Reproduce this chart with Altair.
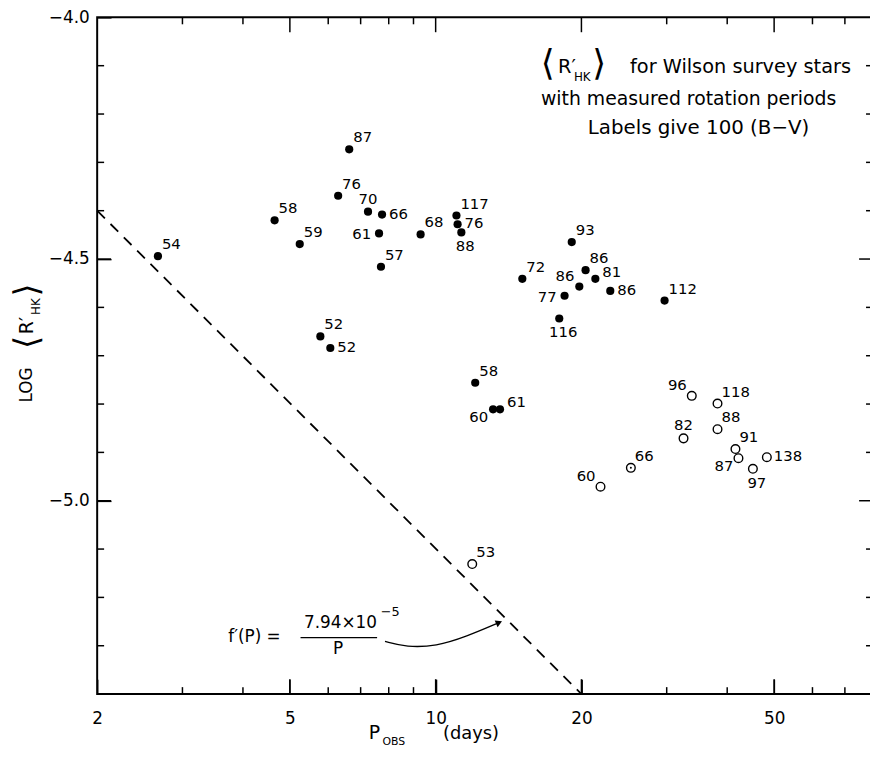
import math
import altair as alt
import pandas as pd

# ---------------- data ----------------
period = [2.67, 4.65, 5.24, 6.63, 6.29, 7.25, 7.75, 7.64, 7.71, 9.31,
          11.04, 11.1, 11.3, 15.1, 19.1, 19.8, 18.46, 18.0, 20.4, 21.37,
          22.94, 29.7, 5.78, 6.06, 12.07, 13.14, 13.58,
          33.8, 38.2, 38.2, 32.5, 41.6, 42.2, 45.2, 48.3, 25.3, 21.9, 11.9]
log_rhk = [-4.494, -4.420, -4.469, -4.273, -4.369, -4.402, -4.408, -4.447, -4.516, -4.449,
           -4.410, -4.428, -4.445, -4.541, -4.465, -4.557, -4.576, -4.623, -4.523, -4.541,
           -4.566, -4.586, -4.660, -4.684, -4.756, -4.811, -4.811,
           -4.783, -4.799, -4.852, -4.871, -4.893, -4.912, -4.934, -4.910, -4.932, -4.971, -5.131]
bv_label = ["54", "58", "59", "87", "76", "70", "66", "61", "57", "68",
            "117", "76", "88", "72", "93", "86", "77", "116", "86", "81",
            "86", "112", "52", "52", "58", "60", "61",
            "96", "118", "88", "82", "91", "87", "97", "138", "66", "60", "53"]
symbol = ["filled"] * 27 + ["open"] * 8 + ["dotted", "open", "open"]
place = ["ne", "ne", "ne", "ne", "ne", "n", "e", "w", "ne", "ne",
         "ne", "e", "s", "ne", "ne", "nw", "w", "s", "ne", "ene",
         "e", "ne", "ne", "e", "ne", "sw", "ene",
         "nw", "ne", "ne", "n", "ne", "sw", "s", "e", "ne", "nw", "ne"]

# dashed relation f'(P) = 7.94e-5 / P, end points
rel_period = [2.0, 20.0]
rel_log = [-4.40, -5.40]

# curved arrow from the formula to the dashed line
arrow_period = [7.86, 8.71, 10.03, 11.57, 13.52]
arrow_log = [-5.291, -5.303, -5.301, -5.281, -5.252]

# axis ticks and labels
x_label_vals = [2, 5, 10, 20, 50]
x_major_ticks = [5, 10, 20, 50]
x_minor_ticks = [3, 4, 6, 7, 8, 9, 30, 40, 60, 70]
y_label_vals = [-4.0, -4.5, -5.0]
y_major_ticks = [-4.5, -5.0]
y_minor_ticks = [-4.1, -4.2, -4.3, -4.4, -4.6, -4.7, -4.8, -4.9, -5.1, -5.2, -5.3]

# annotation texts (anchored in data coordinates)
legend_text = ["\u27e8", "R\u2032", "HK", "\u27e9", "for Wilson survey stars",
               "with measured rotation periods", "Labels give 100 (B\u2212V)"]
legend_period = [17.03, 17.9, 19.3, 21.77, 25.2, 33.3, 34.9]
legend_log = [-4.096, -4.103, -4.124, -4.096, -4.103, -4.168, -4.229]

formula_text = ["f\u2032(P) =", "7.94\u00d710", "\u22125", "P"]
formula_period = [3.73, 6.36, 7.70, 6.29]
formula_log = [-5.281, -5.254, -5.230, -5.307]
bar_period = [5.26]
bar_period2 = [7.57]
bar_log = [-5.283]

# ---------------- chart ----------------
W, H = 783, 683
X_MIN, X_MAX, Y_MIN, Y_MAX = 2, 80, -5.4, -4.0
FONT = "DejaVu Sans"

xs = alt.Scale(type="log", domain=[X_MIN, X_MAX], nice=False)
ys = alt.Scale(domain=[Y_MIN, Y_MAX], nice=False, zero=False)
# axes moved inside the frame by their tick length, so the major ticks run
# from the frame inwards; label padding compensates so labels stay outside
xaxis = alt.Axis(values=x_label_vals, format="~g", ticks=True, tickSize=15, tickWidth=1.5,
                 tickColor="black", offset=-15, domain=False, grid=False,
                 title=None, labelFontSize=17, labelPadding=17, labelColor="black",
                 labelFlush=False, labelFont=FONT)
yaxis = alt.Axis(values=y_label_vals, format=".1f", ticks=True, tickSize=14, tickWidth=1.5,
                 tickColor="black", offset=-14, domain=False, grid=False, title=None,
                 labelFontSize=17, labelPadding=8, labelColor="black", labelFlush=False,
                 labelFont=FONT)


def X(f="P"):
    return alt.X(f"{f}:Q", scale=xs, axis=xaxis)


def Y(f="R"):
    return alt.Y(f"{f}:Q", scale=ys, axis=yaxis)


stars = pd.DataFrame({"P": period, "R": log_rhk, "label": bv_label,
                      "symbol": symbol, "place": place})
base = alt.Chart(stars)

layers = []

# inward ticks on all four sides (tick marks centred half a tick length inside the frame)
PX_PER_DEC_X = W / math.log10(X_MAX / X_MIN)
PX_PER_UNIT_Y = H / (Y_MAX - Y_MIN)
xt_rows, yt_rows = [], []
for vals, length in ((x_major_ticks, 15), (x_minor_ticks, 7)):
    half = (length / 2) / PX_PER_UNIT_Y
    for v in vals:
        xt_rows.append({"P": float(v), "R": Y_MIN + half, "len": length})
        xt_rows.append({"P": float(v), "R": Y_MAX - half, "len": length})
for vals, length in ((y_major_ticks, 14), (y_minor_ticks, 7)):
    f = 10 ** ((length / 2) / PX_PER_DEC_X)
    for v in vals:
        yt_rows.append({"P": X_MIN * f, "R": v, "len": length})
        yt_rows.append({"P": X_MAX / f, "R": v, "len": length})
layers.append(alt.Chart(pd.DataFrame(xt_rows))
              .mark_tick(color="black", thickness=1.5, orient="vertical", opacity=1)
              .encode(x=X(), y=Y(), size=alt.Size("len:Q", scale=None, legend=None)))
layers.append(alt.Chart(pd.DataFrame(yt_rows))
              .mark_tick(color="black", thickness=1.5, orient="horizontal", opacity=1)
              .encode(x=X(), y=Y(), size=alt.Size("len:Q", scale=None, legend=None)))

# dashed relation
rel = pd.DataFrame({"P": rel_period, "R": rel_log})
layers.append(alt.Chart(rel).mark_line(color="black", strokeWidth=1.8, strokeDash=[11, 8])
              .encode(x=X(), y=Y()))

# points
layers.append(base.transform_filter(alt.datum.symbol == "filled")
              .mark_point(shape="circle", filled=True, size=68, color="black", opacity=1)
              .encode(x=X(), y=Y()))
layers.append(base.transform_filter(alt.datum.symbol != "filled")
              .mark_point(shape="circle", filled=False, size=76, color="black",
                          strokeWidth=1.4, opacity=1)
              .encode(x=X(), y=Y()))
layers.append(base.transform_filter(alt.datum.symbol == "dotted")
              .mark_point(shape="circle", filled=True, size=4, color="black", opacity=1)
              .encode(x=X(), y=Y()))

# point labels
PLACES = {"ne": ("left", 4, -12), "ene": ("left", 7, -7), "n": ("center", 0, -13),
          "e": ("left", 7, -1), "w": ("right", -8, 1), "nw": ("right", -5, -11),
          "sw": ("right", -5, 8), "s": ("center", 4, 14)}
for code, (al, dx, dy) in PLACES.items():
    layers.append(base.transform_filter(alt.datum.place == code)
                  .mark_text(align=al, baseline="middle", dx=dx, dy=dy, fontSize=15,
                             font=FONT, color="black")
                  .encode(x=X(), y=Y(), text="label:N"))

# arrow
arr = pd.DataFrame({"P": arrow_period, "R": arrow_log})
layers.append(alt.Chart(arr).mark_line(color="black", strokeWidth=1.3, interpolate="basis")
              .encode(x=X(), y=Y()))
layers.append(alt.Chart(arr.tail(1)).mark_point(shape="triangle-right", filled=True, size=55,
                                                 angle=337, color="black", opacity=1)
              .encode(x=X(), y=Y()))

# formula
fsizes = [17, 17, 13, 17]
faligns = ["left", "center", "left", "center"]
for t, p, r, s, a in zip(formula_text, formula_period, formula_log, fsizes, faligns):
    d = pd.DataFrame({"P": [p], "R": [r], "t": [t]})
    layers.append(alt.Chart(d).mark_text(align=a, baseline="middle", fontSize=s, font=FONT,
                                         color="black")
                  .encode(x=X(), y=Y(), text="t:N"))
bar = pd.DataFrame({"P": bar_period, "P2": bar_period2, "R": bar_log})
layers.append(alt.Chart(bar).mark_rule(color="black", strokeWidth=1.3)
              .encode(x=X(), x2="P2:Q", y=Y()))

# legend text block
lsizes = [36, 19.5, 12, 36, 19.5, 19, 20]
laligns = ["center", "left", "left", "center", "left", "center", "center"]
for t, p, r, s, a in zip(legend_text, legend_period, legend_log, lsizes, laligns):
    d = pd.DataFrame({"P": [p], "R": [r], "t": [t]})
    layers.append(alt.Chart(d).mark_text(align=a, baseline="middle", fontSize=s, font=FONT,
                                         color="black")
                  .encode(x=X(), y=Y(), text="t:N"))

# axis titles composed of pieces (subscripts, brackets)
ytitle = [("LOG", -71, 371, 17), ("\u27e8", -70, 328, 34),
          ("R\u2032", -71, 311, 19), ("HK", -62, 292, 12),
          ("\u27e9", -70, 275, 34)]
for t, px, py, s in ytitle:
    d = pd.DataFrame({"t": [t]})
    layers.append(alt.Chart(d).mark_text(angle=270, align="center", baseline="middle",
                                         fontSize=s, font=FONT, color="black")
                  .encode(x=alt.value(px), y=alt.value(py), text="t:N"))
xtitle = [("P", 274, 722, 19), ("OBS", 288, 731, 11), ("(days)", 349, 723, 18)]
for t, px, py, s in xtitle:
    d = pd.DataFrame({"t": [t]})
    layers.append(alt.Chart(d).mark_text(align="left", baseline="middle",
                                         fontSize=s, font=FONT, color="black")
                  .encode(x=alt.value(px), y=alt.value(py), text="t:N"))

chart = (alt.layer(*layers)
         .properties(width=W, height=H,
                     autosize=alt.AutoSizeParams(type="none"),
                     padding={"left": 90, "top": 6, "right": -3, "bottom": 53},
                     background="white")
         .configure(font=FONT)
         .configure_view(stroke="black", strokeWidth=2))

chart.save("out.html", embed_options={"renderer": "svg", "actions": False})
